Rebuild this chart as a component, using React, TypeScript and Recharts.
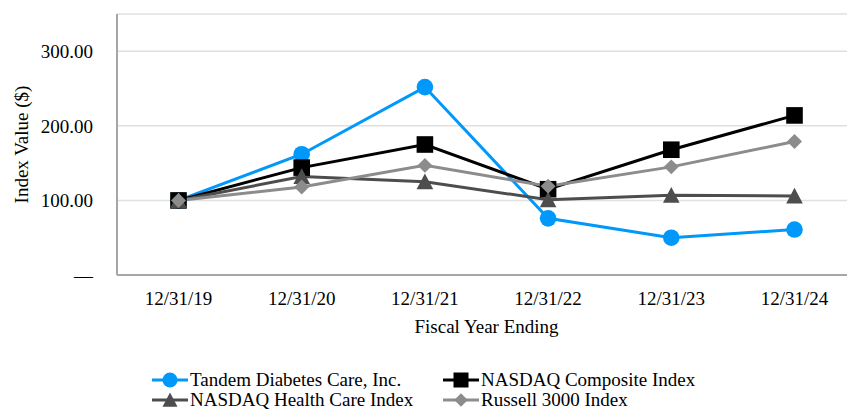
import React from "react";
import { LineChart, Line, XAxis, YAxis, CartesianGrid, Legend } from "recharts";

const categories = ["12/31/19", "12/31/20", "12/31/21", "12/31/22", "12/31/23", "12/31/24"];
const tandem = [100, 162, 252, 76, 50, 61];
const nasdaqComposite = [100, 144, 175, 115, 168, 214];
const nasdaqHealth = [100, 132, 125, 101, 107, 106];
const russell3000 = [100, 118, 147, 119, 145, 179];
const yTicks = [0, 100, 200, 300];

const seriesNames = {
  tandem: "Tandem Diabetes Care, Inc.",
  composite: "NASDAQ Composite Index",
  health: "NASDAQ Health Care Index",
  russell: "Russell 3000 Index",
};

const colors = {
  tandem: "#0098FA",
  composite: "#000000",
  health: "#4D4D4D",
  russell: "#8C8C8C",
};

const data = categories.map((c, i) => ({
  name: c,
  tandem: tandem[i],
  composite: nasdaqComposite[i],
  health: nasdaqHealth[i],
  russell: russell3000[i],
}));

const FONT = '"Liberation Serif", "Times New Roman", serif';
const textStyle = { fill: "#000", fontSize: 19, fontFamily: FONT };

type Shape = "circle" | "square" | "triangle" | "diamond";

function marker(shape: Shape, cx: number, cy: number, color: string, s: number, key?: any) {
  if (shape === "circle") return <circle key={key} cx={cx} cy={cy} r={s} fill={color} />;
  if (shape === "square")
    return <rect key={key} x={cx - s} y={cy - s} width={2 * s} height={2 * s} fill={color} />;
  if (shape === "triangle")
    return (
      <polygon
        key={key}
        points={`${cx},${cy - s} ${cx + s},${cy + s * 0.9} ${cx - s},${cy + s * 0.9}`}
        fill={color}
      />
    );
  const d = s * 0.9;
  return (
    <polygon key={key} points={`${cx},${cy - d} ${cx + d},${cy} ${cx},${cy + d} ${cx - d},${cy}`} fill={color} />
  );
}

const makeDot = (shape: Shape, color: string) => (props: any) =>
  marker(shape, props.cx, props.cy, color, 8.3, `${shape}-${props.index}`);

const XTick = (props: any) => (
  <text x={props.x} y={props.y} dy="0.71em" textAnchor="middle" style={textStyle}>
    {props.payload.value}
  </text>
);

const YTick = (props: any) => {
  const v = props.payload.value as number;
  return (
    <text x={props.x} y={props.y} dy="0.35em" textAnchor="end" style={textStyle}>
      {v === 0 ? "—" : v.toFixed(2)}
    </text>
  );
};

const legendItems: { key: keyof typeof colors; shape: Shape }[] = [
  { key: "tandem", shape: "circle" },
  { key: "composite", shape: "square" },
  { key: "health", shape: "triangle" },
  { key: "russell", shape: "diamond" },
];

const LegendContent = () => (
  <div
    style={{
      display: "grid",
      gridTemplateColumns: "291px 300px",
      fontFamily: FONT,
      fontSize: 19,
      color: "#000",
      lineHeight: "20px",
    }}
  >
    {legendItems.map((it) => (
      <div key={it.key} style={{ display: "flex", alignItems: "center", height: 20, whiteSpace: "nowrap" }}>
        <svg width={36} height={20} style={{ marginRight: 2, overflow: "visible" }}>
          <line x1={0} y1={10} x2={36} y2={10} stroke={colors[it.key]} strokeWidth={3} />
          {marker(it.shape, 18, 10, colors[it.key], 7.5)}
        </svg>
        <span>{seriesNames[it.key]}</span>
      </div>
    ))}
  </div>
);

export default function App() {
  return (
    <div
      style={{
        position: "fixed",
        left: 0,
        top: 0,
        width: 847,
        height: 410,
        overflow: "hidden",
        background: "#fff",
        fontFamily: FONT,
      }}
    >
      <LineChart
        width={847}
        height={410}
        data={data}
        margin={{ top: 14, right: -9, bottom: 65, left: 0 }}
      >
        <CartesianGrid vertical={false} stroke="#E0E0E0" strokeWidth={1.5} />
        <XAxis
          dataKey="name"
          padding={{ left: 61.5, right: 61.5 }}
          tickLine={false}
          tickSize={0}
          tickMargin={16.5}
          height={70}
          axisLine={{ stroke: "#A6A6A6", strokeWidth: 2 }}
          tick={<XTick />}
          label={{
            value: "Fiscal Year Ending",
            position: "insideBottom",
            offset: 12,
            style: textStyle,
          }}
        />
        <YAxis
          domain={[0, 350]}
          ticks={yTicks}
          width={117}
          tickLine={false}
          tickSize={0}
          tickMargin={24}
          axisLine={{ stroke: "#A6A6A6", strokeWidth: 2 }}
          tick={<YTick />}
          label={{
            value: "Index Value ($)",
            angle: -90,
            position: "center",
            dx: -37,
            style: { ...textStyle, textAnchor: "middle" },
          }}
        />
        <Legend
          verticalAlign="middle"
          align="center"
          layout="horizontal"
          wrapperStyle={{ top: 370, left: 152, width: 620, height: 40 }}
          content={<LegendContent />}
        />
        <Line
          dataKey="tandem"
          name={seriesNames.tandem}
          stroke={colors.tandem}
          strokeWidth={3}
          dot={makeDot("circle", colors.tandem)}
          activeDot={false}
          isAnimationActive={false}
        />
        <Line
          dataKey="composite"
          name={seriesNames.composite}
          stroke={colors.composite}
          strokeWidth={3}
          dot={makeDot("square", colors.composite)}
          activeDot={false}
          isAnimationActive={false}
        />
        <Line
          dataKey="health"
          name={seriesNames.health}
          stroke={colors.health}
          strokeWidth={3}
          dot={makeDot("triangle", colors.health)}
          activeDot={false}
          isAnimationActive={false}
        />
        <Line
          dataKey="russell"
          name={seriesNames.russell}
          stroke={colors.russell}
          strokeWidth={3}
          dot={makeDot("diamond", colors.russell)}
          activeDot={false}
          isAnimationActive={false}
        />
      </LineChart>
    </div>
  );
}
